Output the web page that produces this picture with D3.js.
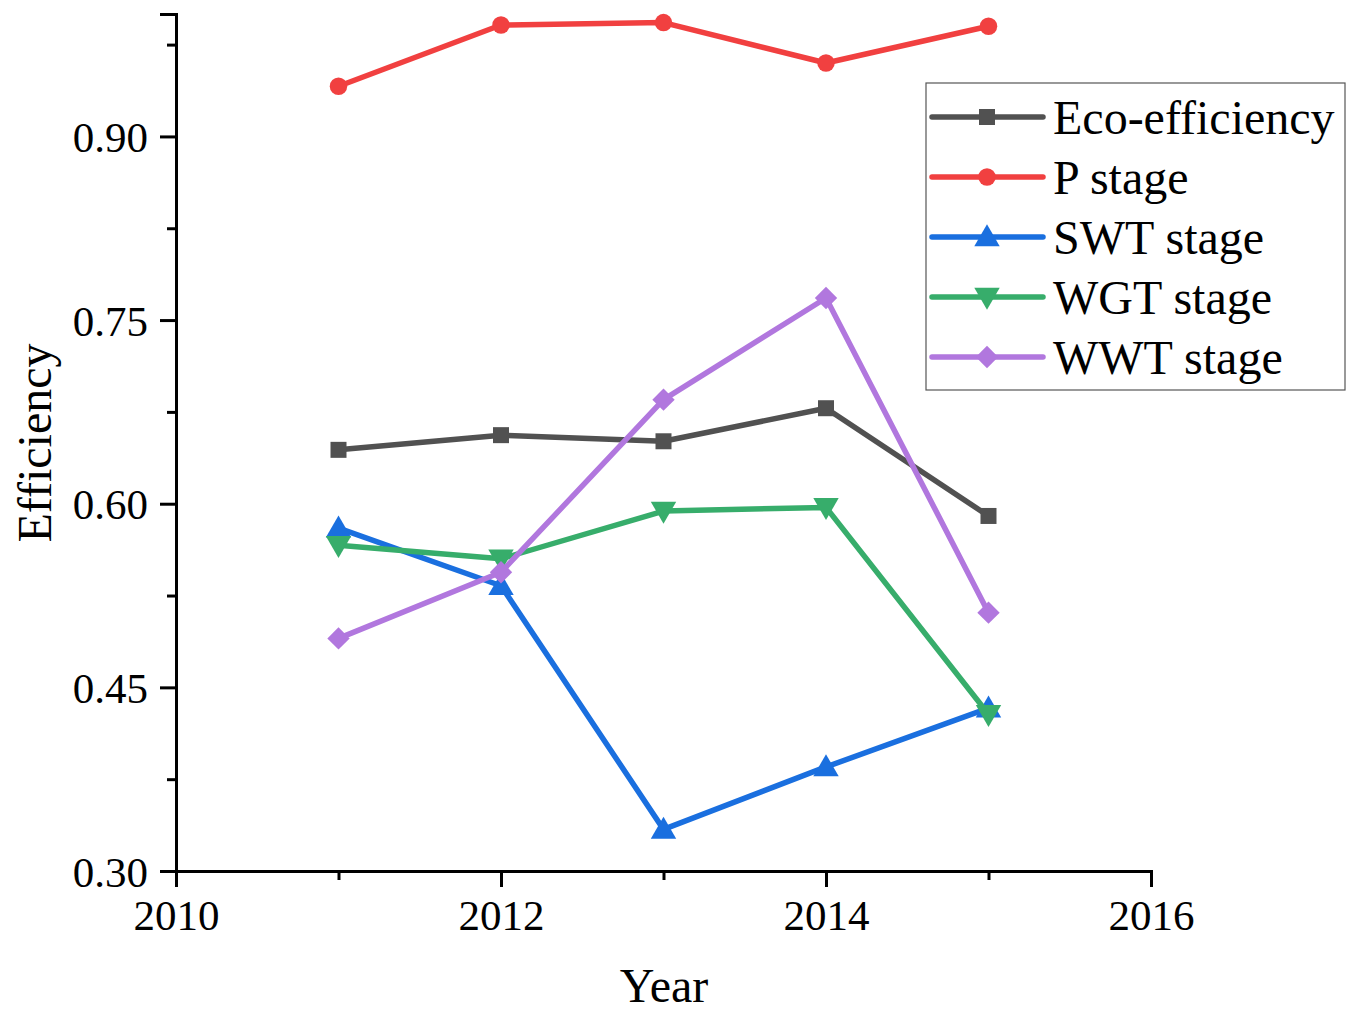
<!DOCTYPE html>
<html><head><meta charset="utf-8">
<script src="https://cdn.jsdelivr.net/npm/d3@7"></script>
<style>body{margin:0;background:#fff;} svg{display:block;}</style>
</head><body>
<script>
const years = [2011, 2012, 2013, 2014, 2015];
const seriesNames = ["Eco-efficiency", "P stage", "SWT stage", "WGT stage", "WWT stage"];
const ecoEfficiency = [0.644, 0.656, 0.651, 0.678, 0.590];
const pStage = [0.941, 0.991, 0.993, 0.960, 0.990];
const swtStage = [0.580, 0.533, 0.334, 0.385, 0.433];
const wgtStage = [0.566, 0.555, 0.594, 0.597, 0.428];
const wwtStage = [0.490, 0.544, 0.685, 0.768, 0.511];
const yTicks = [0.30, 0.45, 0.60, 0.75, 0.90];
const xTicks = [2010, 2012, 2014, 2016];

const colors = ["#515151", "#F14040", "#1A6FDF", "#37AD6B", "#B177DE"];
const symbols = [d3.symbolSquare, d3.symbolCircle, d3.symbolTriangle, d3.symbolTriangle, d3.symbolSquare];
const symSizes = [256, 240, 280, 280, 250];
const rotations = [0, 0, 0, 180, 45];
const allValues = [ecoEfficiency, pStage, swtStage, wgtStage, wwtStage];

const W = 1355, H = 1015;
const svg = d3.select("body").append("svg").attr("width", W).attr("height", H);
const font = "'Liberation Serif','Times New Roman',serif";

const x = d3.scaleLinear().domain([2010, 2016]).range([176, 1151]);
const y = d3.scaleLinear().domain([0.30, 1.0]).range([871, 14]);

const xAxis = svg.append("g").attr("transform", "translate(0,871)")
  .call(d3.axisBottom(x).tickValues(xTicks).tickFormat(d3.format("d")).tickSizeOuter(0).tickSize(16).tickPadding(12));
const xMinor = svg.append("g").attr("transform", "translate(0,871)")
  .call(d3.axisBottom(x).tickValues([2011, 2013, 2015]).tickFormat("").tickSizeOuter(0).tickSize(9));
const yAxis = svg.append("g").attr("transform", "translate(176,0)")
  .call(d3.axisLeft(y).tickValues(yTicks).tickFormat(d3.format(".2f")).tickSizeOuter(0).tickSize(16).tickPadding(12));
const yMinor = svg.append("g").attr("transform", "translate(176,0)")
  .call(d3.axisLeft(y).tickValues([0.375, 0.525, 0.675, 0.825, 0.975]).tickFormat("").tickSizeOuter(0).tickSize(9));

[xAxis, xMinor, yAxis, yMinor].forEach(g => {
  g.select(".domain").attr("stroke", "#000").attr("stroke-width", 3);
  g.selectAll(".tick line").attr("stroke", "#000").attr("stroke-width", 3);
  g.selectAll(".tick text").attr("font-family", font).attr("font-size", 43).attr("fill", "#000");
});
xAxis.selectAll(".tick text").attr("dy", "0.71em");
yAxis.selectAll(".tick text").attr("dy", "0.35em");

svg.append("text").attr("x", 664).attr("y", 1002).attr("text-anchor", "middle")
  .attr("font-family", font).attr("font-size", 48).text("Year");
svg.append("text").attr("transform", "translate(51,443) rotate(-90)").attr("text-anchor", "middle")
  .attr("font-family", font).attr("font-size", 48).text("Efficiency");

const line = d3.line().x((d, i) => x(years[i])).y(d => y(d));
allValues.forEach((vals, s) => {
  const g = svg.append("g");
  g.append("path").datum(vals).attr("d", line).attr("fill", "none")
    .attr("stroke", colors[s]).attr("stroke-width", 5.5).attr("stroke-linejoin", "round");
  g.selectAll("path.m").data(vals).join("path").attr("class", "m")
    .attr("d", d3.symbol().type(symbols[s]).size(symSizes[s]))
    .attr("transform", (d, i) => `translate(${x(years[i])},${y(d) + (s===2?2:s===3?-2:0)}) rotate(${rotations[s]})`)
    .attr("fill", colors[s]);
});

const lg = svg.append("g");
lg.append("rect").attr("x", 926).attr("y", 83).attr("width", 419).attr("height", 307)
  .attr("fill", "#fff").attr("stroke", "#555").attr("stroke-width", 1.2);
seriesNames.forEach((name, s) => {
  const cy = 117 + s * 60;
  lg.append("line").attr("x1", 932).attr("x2", 1043).attr("y1", cy).attr("y2", cy)
    .attr("stroke", colors[s]).attr("stroke-width", 5.5).attr("stroke-linecap", "round");
  lg.append("path").attr("d", d3.symbol().type(symbols[s]).size(symSizes[s]))
    .attr("transform", `translate(987,${cy + (s===2?2:s===3?-2:0)}) rotate(${rotations[s]})`).attr("fill", colors[s]);
  lg.append("text").attr("x", 1053).attr("y", cy).attr("dy", "0.35em")
    .attr("font-family", font).attr("font-size", 48).attr("fill", "#000").text(name);
});
</script>
</body></html>
